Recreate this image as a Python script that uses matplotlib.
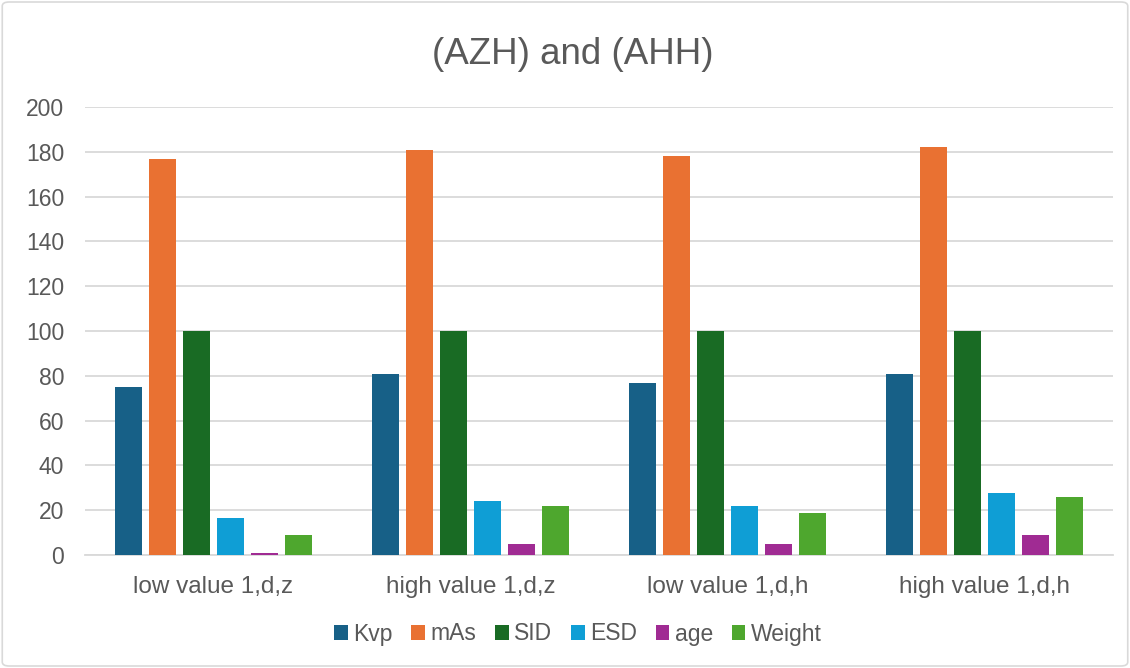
import numpy as np
import matplotlib
matplotlib.use("Agg")
import matplotlib.pyplot as plt
from matplotlib.patches import FancyBboxPatch

plt.rcParams["font.family"] = ["Liberation Sans", "DejaVu Sans"]

categories = ["low value 1,d,z", "high value 1,d,z", "low value 1,d,h", "high value 1,d,h"]
series_names = ["Kvp", "mAs", "SID", "ESD", "age", "Weight"]
kvp = [75, 81, 77, 81]
mas = [177, 181, 178, 182]
sid = [100, 100, 100, 100]
esd = [16.4, 24.2, 22, 27.5]
age = [1, 5, 5, 9]
weight = [9, 22, 18.6, 26]
series_values = [kvp, mas, sid, esd, age, weight]
colors = ["#176087", "#E97132", "#196B24", "#0F9ED5", "#A02B93", "#4EA72E"]

text_color = "#595959"
grid_color = "#D9D9D9"

fig = plt.figure(figsize=(11.3, 6.68), dpi=100)
ax = fig.add_axes([85 / 1130, 1 - 555 / 668, 1028 / 1130, 448 / 668])

# outer chart border
fig.patches.append(FancyBboxPatch((0.002, 0.003), 0.996, 0.994, boxstyle="round,pad=0,rounding_size=0.006",
                                  transform=fig.transFigure, fill=False, edgecolor="#D9D9D9", linewidth=1.2))

x = np.arange(len(categories))
pitch = 0.133
width = 0.105
for i, (name, vals) in enumerate(zip(series_names, series_values)):
    offs = (i - (len(series_names) - 1) / 2) * pitch
    ax.bar(x + offs, vals, width, color=colors[i], label=name, zorder=3)

ax.set_xlim(-0.5, len(categories) - 0.5)
ax.set_ylim(0, 200)
ax.set_yticks(np.arange(0, 201, 20))
ax.grid(axis="y", color=grid_color, linewidth=1.3, zorder=0)
ax.set_xticks(x)
ax.set_xticklabels(categories)
ax.tick_params(axis="both", length=0, labelsize=16.5, labelcolor=text_color)
ax.tick_params(axis="x", pad=15, labelsize=17.5)
ax.tick_params(axis="y", pad=15)
for side in ["top", "right", "left"]:
    ax.spines[side].set_visible(False)
ax.spines["bottom"].set_color(grid_color)
ax.spines["bottom"].set_linewidth(1.3)

fig.text(573 / 1130, 1 - 55 / 668, "(AZH) and (AHH)", ha="center", va="center", fontsize=26.5, color=text_color)

fig.legend(loc="center", bbox_to_anchor=(578 / 1130, 1 - 634 / 668), ncol=6, frameon=False, fontsize=16.5,
           labelcolor=text_color, handlelength=0.6, handleheight=0.6, handletextpad=0.25, columnspacing=0.8)

fig.savefig("out.png", dpi=100)
